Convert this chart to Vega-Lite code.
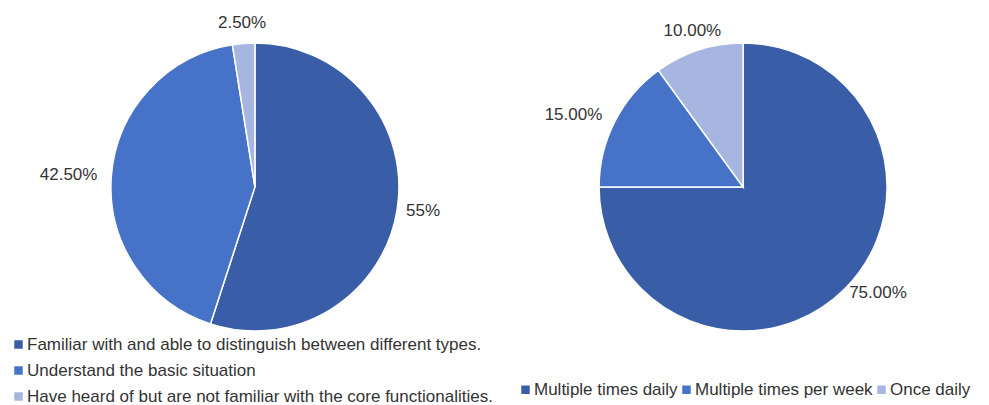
{
  "$schema": "https://vega.github.io/schema/vega-lite/v6.json",
  "autosize": {"type": "fit", "contains": "padding"},
  "width": 989,
  "height": 405,
  "padding": 0,
  "background": "white",
  "config": {"view": {"stroke": null}, "font": "Liberation Sans"},
  "resolve": {"scale": {"color": "independent"}, "legend": {"color": "independent"}},
  "layer": [
    {
      "data": {"values": [
        {"category": "Familiar with and able to distinguish between different types.", "share": 55, "label": "55%", "rank": 1},
        {"category": "Understand the basic situation", "share": 42.5, "label": "42.50%", "rank": 2},
        {"category": "Have heard of but are not familiar with the core functionalities.", "share": 2.5, "label": "2.50%", "rank": 3}
      ]},
      "encoding": {
        "x": {"datum": "usage", "type": "nominal", "axis": null, "scale": {"type": "point", "domain": ["usage", "frequency"], "padding": 0.513, "align": 0.509}},
        "y": {"datum": "pie", "type": "nominal", "axis": null, "scale": {"type": "point", "domain": ["pie"], "padding": 0.5, "align": 0.4617}},
        "theta": {"field": "share", "type": "quantitative", "stack": true},
        "order": {"field": "rank", "type": "quantitative"}
      },
      "layer": [
        {
          "mark": {"type": "arc", "radius": 144, "stroke": "white", "strokeWidth": 1.5},
          "encoding": {
            "color": {
              "field": "category", "type": "nominal",
              "sort": ["Familiar with and able to distinguish between different types.", "Understand the basic situation", "Have heard of but are not familiar with the core functionalities."],
              "scale": {"domain": ["Familiar with and able to distinguish between different types.", "Understand the basic situation", "Have heard of but are not familiar with the core functionalities."], "range": ["#3A5DA7", "#4673C8", "#A7B6E0"]},
              "legend": {"orient": "none", "legendX": 10, "legendY": 336, "direction": "vertical", "title": null, "symbolType": "square", "symbolSize": 72, "labelFontSize": 17, "labelColor": "#333333", "rowPadding": 8, "labelLimit": 700, "symbolStrokeWidth": 0, "labelOffset": 0}
            }
          }
        },
        {
          "mark": {"type": "text", "radius": 153, "align": "left", "baseline": "middle", "fontSize": 17, "fill": "#333333"},
          "encoding": {"text": {"condition": {"test": "datum.rank == 1", "field": "label"}, "value": ""}, "detail": {"field": "category"}}
        },
        {
          "mark": {"type": "text", "radius": 158, "align": "right", "baseline": "middle", "fontSize": 17, "fill": "#333333"},
          "encoding": {"text": {"condition": {"test": "datum.rank == 2", "field": "label"}, "value": ""}, "detail": {"field": "category"}}
        },
        {
          "mark": {"type": "text", "radius": 164, "align": "center", "baseline": "middle", "fontSize": 17, "fill": "#333333"},
          "encoding": {"text": {"condition": {"test": "datum.rank == 3", "field": "label"}, "value": ""}, "detail": {"field": "category"}}
        }
      ]
    },
    {
      "data": {"values": [
        {"category": "Multiple times daily", "share": 75, "label": "75.00%", "rank": 1},
        {"category": "Multiple times per week", "share": 15, "label": "15.00%", "rank": 2},
        {"category": "Once daily", "share": 10, "label": "10.00%", "rank": 3}
      ]},
      "encoding": {
        "x": {"datum": "frequency", "type": "nominal", "axis": null},
        "y": {"datum": "pie", "type": "nominal", "axis": null},
        "theta": {"field": "share", "type": "quantitative", "stack": true},
        "order": {"field": "rank", "type": "quantitative"}
      },
      "layer": [
        {
          "mark": {"type": "arc", "radius": 144, "stroke": "white", "strokeWidth": 1.5},
          "encoding": {
            "color": {
              "field": "category", "type": "nominal",
              "sort": ["Multiple times daily", "Multiple times per week", "Once daily"],
              "scale": {"domain": ["Multiple times daily", "Multiple times per week", "Once daily"], "range": ["#3A5DA7", "#4673C8", "#A7B6E0"]},
              "legend": {"orient": "none", "legendX": 517, "legendY": 381, "direction": "horizontal", "title": null, "symbolType": "square", "symbolSize": 72, "labelFontSize": 17, "labelColor": "#333333", "columnPadding": 0, "labelLimit": 400, "symbolStrokeWidth": 0, "labelOffset": 0}
            }
          }
        },
        {
          "mark": {"type": "text", "radius": 150, "align": "left", "baseline": "middle", "fontSize": 17, "fill": "#333333"},
          "encoding": {"text": {"condition": {"test": "datum.rank == 1", "field": "label"}, "value": ""}, "detail": {"field": "category"}}
        },
        {
          "mark": {"type": "text", "radius": 158, "align": "right", "baseline": "middle", "fontSize": 17, "fill": "#333333"},
          "encoding": {"text": {"condition": {"test": "datum.rank == 2", "field": "label"}, "value": ""}, "detail": {"field": "category"}}
        },
        {
          "mark": {"type": "text", "radius": 164, "align": "center", "baseline": "middle", "fontSize": 17, "fill": "#333333"},
          "encoding": {"text": {"condition": {"test": "datum.rank == 3", "field": "label"}, "value": ""}, "detail": {"field": "category"}}
        }
      ]
    }
  ]
}
